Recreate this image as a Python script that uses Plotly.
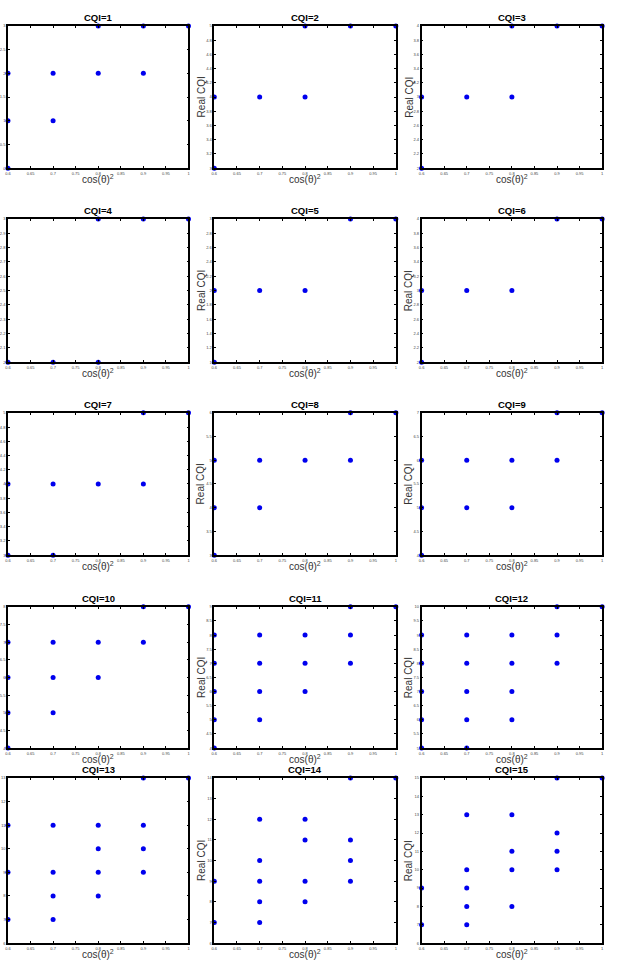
import plotly.graph_objects as go

W, H = 623, 965

x_ticks = [0.6, 0.65, 0.7, 0.75, 0.8, 0.85, 0.9, 0.95, 1.0]
x_ticklabels = ["0.6", "0.65", "0.7", "0.75", "0.8", "0.85", "0.9", "0.95", "1"]

titles = ["CQI=%d" % i for i in range(1, 16)]

# y-axis ranges / tick steps per panel
y_min = [0, 3, 2, 2, 1, 2, 3, 3, 4, 4, 4, 5, 6, 6, 6]
y_max = [3, 5, 4, 3, 3, 4, 5, 6, 7, 8, 9, 10, 13, 14, 15]
y_dtick = [0.5, 0.2, 0.2, 0.1, 0.2, 0.2, 0.2, 0.5, 0.5, 0.5, 0.5, 0.5, 1, 1, 1]

# data points: cos(theta)^2 vs real CQI
cqi1_x = [0.6, 0.6, 0.6, 0.7, 0.7, 0.8, 0.8, 0.9, 0.9, 1.0]
cqi1_y = [0, 1, 2, 1, 2, 2, 3, 2, 3, 3]
cqi2_x = [0.6, 0.6, 0.7, 0.8, 0.8, 0.9, 1.0]
cqi2_y = [3, 4, 4, 4, 5, 5, 5]
cqi3_x = [0.6, 0.6, 0.7, 0.8, 0.8, 0.9, 1.0]
cqi3_y = [2, 3, 3, 3, 4, 4, 4]
cqi4_x = [0.6, 0.7, 0.8, 0.8, 0.9, 1.0]
cqi4_y = [2, 2, 2, 3, 3, 3]
cqi5_x = [0.6, 0.6, 0.7, 0.8, 0.9, 1.0]
cqi5_y = [1, 2, 2, 2, 3, 3]
cqi6_x = [0.6, 0.6, 0.7, 0.8, 0.9, 1.0]
cqi6_y = [2, 3, 3, 3, 4, 4]
cqi7_x = [0.6, 0.6, 0.7, 0.7, 0.8, 0.9, 0.9, 1.0]
cqi7_y = [3, 4, 3, 4, 4, 4, 5, 5]
cqi8_x = [0.6, 0.6, 0.6, 0.7, 0.7, 0.8, 0.9, 0.9, 1.0]
cqi8_y = [3, 4, 5, 4, 5, 5, 5, 6, 6]
cqi9_x = [0.6, 0.6, 0.6, 0.7, 0.7, 0.8, 0.8, 0.9, 0.9, 1.0]
cqi9_y = [4, 5, 6, 5, 6, 5, 6, 6, 7, 7]
cqi10_x = [0.6, 0.6, 0.6, 0.6, 0.7, 0.7, 0.7, 0.8, 0.8, 0.9, 0.9, 1.0]
cqi10_y = [4, 5, 6, 7, 5, 6, 7, 6, 7, 7, 8, 8]
cqi11_x = [0.6, 0.6, 0.6, 0.6, 0.6, 0.7, 0.7, 0.7, 0.7, 0.8, 0.8, 0.8, 0.9, 0.9, 0.9, 1.0]
cqi11_y = [4, 5, 6, 7, 8, 5, 6, 7, 8, 6, 7, 8, 7, 8, 9, 9]
cqi12_x = [0.6, 0.6, 0.6, 0.6, 0.6, 0.7, 0.7, 0.7, 0.7, 0.7, 0.8, 0.8, 0.8, 0.8, 0.9, 0.9, 0.9, 1.0]
cqi12_y = [5, 6, 7, 8, 9, 5, 6, 7, 8, 9, 6, 7, 8, 9, 8, 9, 10, 10]
cqi13_x = [0.6, 0.6, 0.6, 0.7, 0.7, 0.7, 0.7, 0.8, 0.8, 0.8, 0.8, 0.9, 0.9, 0.9, 0.9, 1.0]
cqi13_y = [7, 9, 11, 7, 8, 9, 11, 8, 9, 10, 11, 9, 10, 11, 13, 13]
cqi14_x = [0.6, 0.6, 0.7, 0.7, 0.7, 0.7, 0.7, 0.8, 0.8, 0.8, 0.8, 0.9, 0.9, 0.9, 0.9, 1.0]
cqi14_y = [7, 9, 7, 8, 9, 10, 12, 8, 9, 11, 12, 9, 10, 11, 14, 14]
cqi15_x = [0.6, 0.6, 0.7, 0.7, 0.7, 0.7, 0.7, 0.8, 0.8, 0.8, 0.8, 0.9, 0.9, 0.9, 0.9, 1.0]
cqi15_y = [7, 9, 7, 8, 9, 10, 13, 8, 10, 11, 13, 10, 11, 12, 15, 15]

panels_x = [cqi1_x, cqi2_x, cqi3_x, cqi4_x, cqi5_x, cqi6_x, cqi7_x, cqi8_x,
            cqi9_x, cqi10_x, cqi11_x, cqi12_x, cqi13_x, cqi14_x, cqi15_x]
panels_y = [cqi1_y, cqi2_y, cqi3_y, cqi4_y, cqi5_y, cqi6_y, cqi7_y, cqi8_y,
            cqi9_y, cqi10_y, cqi11_y, cqi12_y, cqi13_y, cqi14_y, cqi15_y]

# layout geometry in pixels
col_lr = [(5, 187), (213, 396), (422, 604)]
row_tb = [(23, 166), (217, 361), (412, 555), (607, 749), (779, 945)]


def fmt(v):
    return ("%.2f" % v).rstrip("0").rstrip(".")


fig = go.Figure()
annotations = []
FONT = "Liberation Sans, Arial, sans-serif"

for i in range(15):
    r, c = divmod(i, 3)
    l, rr = col_lr[c]
    t, b = row_tb[r]
    xa = "xaxis" if i == 0 else "xaxis%d" % (i + 1)
    ya = "yaxis" if i == 0 else "yaxis%d" % (i + 1)
    xref = "x" if i == 0 else "x%d" % (i + 1)
    yref = "y" if i == 0 else "y%d" % (i + 1)

    fig.add_trace(go.Scatter(
        x=panels_x[i], y=panels_y[i], mode="markers",
        marker=dict(color="#0000ee", size=5, line=dict(width=0)),
        cliponaxis=False, xaxis=xref, yaxis=yref, showlegend=False,
        hoverinfo="x+y"))

    n = int(round((y_max[i] - y_min[i]) / y_dtick[i]))
    yt = [y_min[i] + k * y_dtick[i] for k in range(n + 1)]
    common = dict(showline=True, mirror="ticks", linecolor="black", linewidth=1.6,
                  ticks="inside", ticklen=2, tickwidth=0.8, tickcolor="black",
                  showgrid=False, zeroline=False,
                  tickfont=dict(size=4, color="#444", family=FONT))
    fig.layout[xa] = dict(domain=[l / W, rr / W], anchor=yref, range=[0.6, 1.0],
                          tickvals=x_ticks, ticktext=x_ticklabels, **common)
    fig.layout[ya] = dict(domain=[1 - b / H, 1 - t / H], anchor=xref,
                          range=[y_min[i], y_max[i]],
                          tickvals=yt, ticktext=[fmt(v) for v in yt], **common)

    cx = (l + rr) / 2 / W
    annotations.append(dict(text="<b>" + titles[i] + "</b>", x=cx, y=1 - (t - 1) / H,
                            xref="paper", yref="paper", showarrow=False,
                            xanchor="center", yanchor="bottom",
                            font=dict(size=9.5, color="black", family=FONT)))
    annotations.append(dict(text="cos(θ)<sup>2</sup>", x=cx, y=1 - (b + 3) / H,
                            xref="paper", yref="paper", showarrow=False,
                            xanchor="center", yanchor="top",
                            font=dict(size=10, color="#333", family=FONT)))
    if c > 0:
        annotations.append(dict(text="Real CQI", x=(l - 13) / W, y=1 - (t + b) / 2 / H,
                                xref="paper", yref="paper", showarrow=False,
                                textangle=-90, xanchor="center", yanchor="middle",
                                font=dict(size=10, color="#333", family=FONT)))

fig.update_layout(width=W, height=H, margin=dict(l=0, r=0, t=0, b=0),
                  paper_bgcolor="white", plot_bgcolor="white",
                  annotations=annotations, showlegend=False)

fig.write_html("out.html")
